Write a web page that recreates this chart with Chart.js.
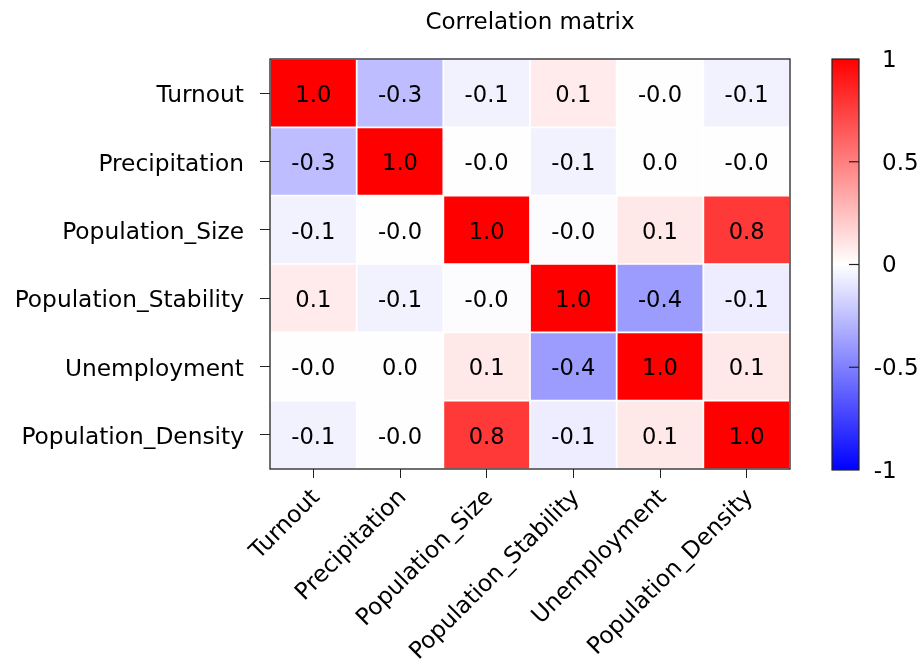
<!DOCTYPE html>
<html>
<head>
<meta charset="utf-8">
<script src="https://cdn.jsdelivr.net/npm/chart.js@4.4.1/dist/chart.umd.min.js"></script>
<style>
  html, body { margin: 0; padding: 0; background: #fff; }
  #wrap { position: relative; width: 920px; height: 661px; }
  #wrap canvas { position: absolute; left: 0; top: 0; }
</style>
</head>
<body>
<div id="wrap">
  <canvas id="heat" width="920" height="661"></canvas>
  <canvas id="cbar" width="920" height="661"></canvas>
</div>
<script>
// variable names (rows top to bottom, columns left to right)
const labels = ["Turnout", "Precipitation", "Population_Size", "Population_Stability", "Unemployment", "Population_Density"];

// correlation rows
const turnout = [1.0, -0.26, -0.05, 0.08, -0.004, -0.05];
const precipitation = [-0.26, 1.0, -0.004, -0.05, 0.003, -0.004];
const populationSize = [-0.05, -0.004, 1.0, -0.01, 0.09, 0.78];
const populationStability = [0.08, -0.05, -0.01, 1.0, -0.39, -0.07];
const unemployment = [-0.004, 0.003, 0.09, -0.39, 1.0, 0.09];
const populationDensity = [-0.05, -0.004, 0.78, -0.07, 0.09, 1.0];

const colorbarTicks = [-1, -0.5, 0, 0.5, 1];
const titleText = "Correlation matrix";

const matrix = [turnout, precipitation, populationSize, populationStability, unemployment, populationDensity];
const FONT = "'DejaVu Sans', sans-serif";

// matplotlib "bwr" colormap, vmin -1, vmax 1
function bwr(v) {
  const n = Math.max(0, Math.min(1, (v + 1) / 2));
  let r, g, b;
  if (n < 0.5) {
    r = g = Math.round(2 * n * 255);
    b = 255;
  } else {
    r = 255;
    g = b = Math.round(2 * (1 - n) * 255);
  }
  return `rgb(${r},${g},${b})`;
}

// one dataset per row, each cell a floating bar [row, row + 1]
const datasets = matrix.map((row, r) => {
  const bottom = labels.length - 1 - r;
  return {
    label: labels[r],
    data: row.map(() => [bottom, bottom + 1]),
    values: row,
    backgroundColor: row.map((v) => bwr(v)),
    borderColor: "#ffffff",
    borderWidth: 1.2,
    borderSkipped: false,
    grouped: false,
    barPercentage: 1,
    categoryPercentage: 1,
  };
});

const annotatePlugin = {
  id: "annotate",
  afterDatasetsDraw(chart) {
    const ctx = chart.ctx;
    ctx.save();
    ctx.fillStyle = "#000";
    ctx.font = "22.6px " + FONT;
    ctx.textAlign = "center";
    ctx.textBaseline = "middle";
    chart.data.datasets.forEach((ds, i) => {
      chart.getDatasetMeta(i).data.forEach((bar, j) => {
        const p = bar.getCenterPoint();
        ctx.fillText(ds.values[j].toFixed(1), p.x, p.y + 3);
      });
    });
    ctx.restore();
  },
};

const framePlugin = {
  id: "frame",
  afterDraw(chart) {
    const a = chart.chartArea;
    const ctx = chart.ctx;
    ctx.save();
    ctx.strokeStyle = "#222";
    ctx.lineWidth = 1.3;
    ctx.strokeRect(a.left, a.top, a.right - a.left, a.bottom - a.top);
    // title centred over the plot area
    ctx.fillStyle = "#000";
    ctx.font = "23px " + FONT;
    ctx.textAlign = "center";
    ctx.textBaseline = "alphabetic";
    ctx.fillText(titleText, (a.left + a.right) / 2, 29);
    ctx.restore();
  },
};

new Chart(document.getElementById("heat"), {
  type: "bar",
  data: { labels: labels, datasets: datasets },
  options: {
    responsive: false,
    animation: false,
    events: [],
    layout: { padding: { top: 59, right: 130, left: 0, bottom: 0 } },
    plugins: { legend: { display: false }, tooltip: { enabled: false } },
    scales: {
      x: {
        grid: { offset: false, drawOnChartArea: false, drawTicks: true, tickLength: 9, color: "#222" },
        border: { display: false },
        ticks: {
          color: "#000",
          font: { family: FONT, size: 23.3 },
          maxRotation: 45,
          minRotation: 45,
          padding: 6,
          labelOffset: 3,
          autoSkip: false,
        },
        afterFit(scale) {
          scale.height = 192;
        },
      },
      y: {
        min: 0,
        max: labels.length,
        grid: { drawOnChartArea: false, drawTicks: true, tickLength: 10, color: "#222" },
        border: { display: false },
        afterBuildTicks(scale) {
          scale.ticks = labels.map((_, i) => ({ value: i + 0.5 }));
        },
        ticks: {
          color: "#000",
          font: { family: FONT, size: 23.3 },
          padding: 16,
          labelOffset: 3,
          callback: function (value) {
            return labels[labels.length - 1 - Math.floor(value)];
          },
        },
        afterFit(scale) {
          scale.width = 270;
        },
      },
    },
  },
  plugins: [annotatePlugin, framePlugin],
});

// colorbar: a single floating bar from -1 to 1 filled with the colormap
const colorbarPlugin = {
  id: "colorbarTicks",
  afterDraw(chart) {
    const a = chart.chartArea;
    const y = chart.scales.y;
    const ctx = chart.ctx;
    ctx.save();
    ctx.strokeStyle = "#222";
    ctx.lineWidth = 1.2;
    ctx.strokeRect(a.left, a.top, a.right - a.left, a.bottom - a.top);
    ctx.fillStyle = "#000";
    ctx.font = "23px " + FONT;
    ctx.textBaseline = "middle";
    ctx.textAlign = "left";
    const minusW = ctx.measureText("-").width;
    colorbarTicks.forEach((t) => {
      const py = y.getPixelForValue(t);
      if (t !== colorbarTicks[0] && t !== colorbarTicks[colorbarTicks.length - 1]) {
        ctx.beginPath();
        ctx.moveTo(a.right - 10, py);
        ctx.lineTo(a.right, py);
        ctx.stroke();
      }
      const txt = String(t);
      ctx.fillText(txt, a.right + 23 - (t < 0 ? minusW : 0), py + 2);
    });
    ctx.restore();
  },
};

new Chart(document.getElementById("cbar"), {
  type: "bar",
  data: {
    labels: [""],
    datasets: [
      {
        data: [[colorbarTicks[0], colorbarTicks[colorbarTicks.length - 1]]],
        backgroundColor: function (context) {
          const area = context.chart.chartArea;
          if (!area) return "#fff";
          const g = context.chart.ctx.createLinearGradient(0, area.bottom, 0, area.top);
          g.addColorStop(0, bwr(-1));
          g.addColorStop(0.5, bwr(0));
          g.addColorStop(1, bwr(1));
          return g;
        },
        borderWidth: 0,
        barPercentage: 1,
        categoryPercentage: 1,
      },
    ],
  },
  options: {
    responsive: false,
    animation: false,
    events: [],
    layout: { padding: { top: 59, left: 832, right: 61, bottom: 191 } },
    plugins: { legend: { display: false }, tooltip: { enabled: false } },
    scales: {
      x: { display: false },
      y: { display: false, min: -1, max: 1 },
    },
  },
  plugins: [colorbarPlugin],
});
</script>
</body>
</html>
